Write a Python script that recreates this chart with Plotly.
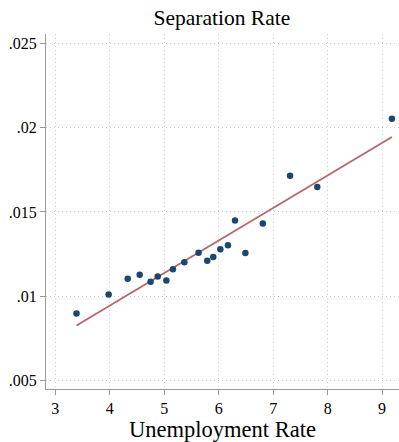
import plotly.graph_objects as go

unemployment = [3.39, 3.98, 4.33, 4.55, 4.75, 4.88, 5.04, 5.16, 5.37, 5.63, 5.79, 5.90,
                6.03, 6.17, 6.30, 6.49, 6.81, 7.31, 7.81, 9.18]
separation = [0.00897, 0.01011, 0.01104, 0.01128, 0.01086, 0.01117, 0.01093, 0.01160,
              0.01201, 0.01258, 0.01211, 0.01233, 0.01278, 0.01303, 0.01449, 0.01256,
              0.01431, 0.01715, 0.01648, 0.02052]
fit_x = [3.39, 9.18]
fit_y = [0.00826, 0.01944]

x_ticks = [3, 4, 5, 6, 7, 8, 9]
y_ticks = [0.005, 0.01, 0.015, 0.02, 0.025]
y_tick_labels = [".005", ".01", ".015", ".02", ".025"]

FONT = "Liberation Serif, Times New Roman, serif"

fig = go.Figure()
fig.add_trace(go.Scatter(x=fit_x, y=fit_y, mode="lines",
                         line=dict(color="#b5676a", width=1.8), showlegend=False))
fig.add_trace(go.Scatter(x=unemployment, y=separation, mode="markers",
                         marker=dict(color="#1a476f", size=6.5), showlegend=False))

grid = dict(showgrid=True, gridcolor="#cfcfcf", griddash="1px,3px", gridwidth=1)

fig.update_layout(
    width=399, height=442,
    margin=dict(l=46, r=0, t=34, b=53, autoexpand=False),
    paper_bgcolor="white", plot_bgcolor="white",
    font=dict(family=FONT, color="black"),
    title=dict(text="Separation Rate", x=0.556, xanchor="center", y=0.96, yanchor="middle",
               font=dict(family=FONT, size=21.5, color="black")),
    xaxis=dict(range=[2.83, 9.31], tickvals=x_ticks, ticks="outside", ticklen=5,
               tickcolor="#999999", showline=True, linecolor="#999999", linewidth=1.2,
               zeroline=False, automargin=False, **grid,
               tickfont=dict(family=FONT, size=16, color="black"),
               title=dict(text="Unemployment Rate", standoff=5,
                          font=dict(family=FONT, size=22.5, color="black"))),
    yaxis=dict(range=[0.0045, 0.02555], tickvals=y_ticks, ticktext=y_tick_labels,
               ticks="outside", ticklen=5, tickcolor="#999999", showline=True,
               linecolor="#999999", linewidth=1.2, zeroline=False, automargin=False, **grid,
               tickfont=dict(family=FONT, size=16, color="black")),
)

fig.write_html("out.html", config={"displayModeBar": False},
               post_script="document.body.style.margin='0';document.body.style.overflow='hidden';")
